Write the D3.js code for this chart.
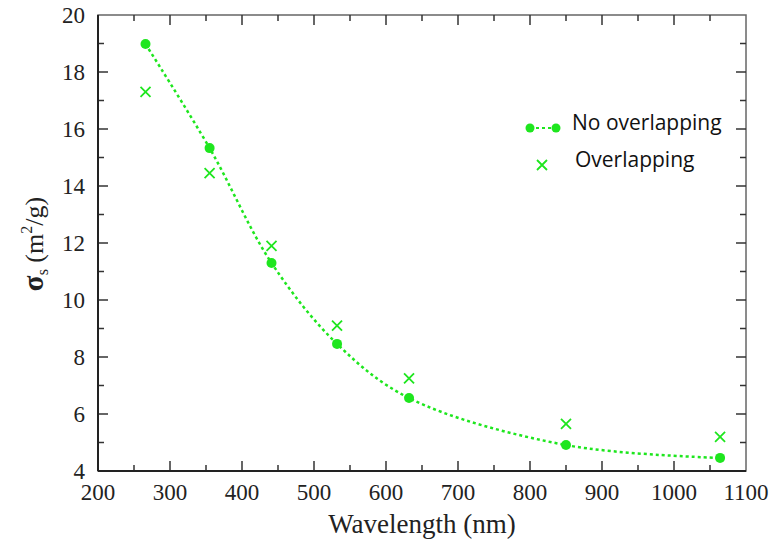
<!DOCTYPE html>
<html>
<head>
<meta charset="utf-8">
<script src="https://cdn.jsdelivr.net/npm/d3@7"></script>
<style>
  body { margin: 0; background: #fff; }
  svg { display: block; }
</style>
</head>
<body>
<svg id="chart" width="771" height="542"></svg>
<script>
// wavelengths (nm)
const wavelengths = [266, 355, 441, 532, 632, 850, 1064];
// sigma_s values (m^2/g)
const noOverlap = [18.98, 15.33, 11.3, 8.46, 6.56, 4.91, 4.46];
const overlap = [17.3, 14.45, 11.9, 9.1, 7.25, 5.65, 5.2];
const xTicks = [200, 300, 400, 500, 600, 700, 800, 900, 1000, 1100];
const yTicks = [4, 6, 8, 10, 12, 14, 16, 18, 20];
const legendLabels = ["No overlapping", "Overlapping"];

const svg = d3.select("#chart");
const green = "#1ee61e";

const plotL = 98, plotR = 746, plotT = 15, plotB = 471;

const xScale = d3.scaleLinear().domain([200, 1100]).range([plotL, plotR]);
const yScale = d3.scaleLinear().domain([4, 20]).range([plotB, plotT]);

// frame
svg.append("rect")
   .attr("x", plotL).attr("y", plotT)
   .attr("width", plotR - plotL).attr("height", plotB - plotT)
   .attr("fill", "none").attr("stroke", "#666").attr("stroke-width", 1.5);

// ticks, inward, all four sides
const xMinor = d3.range(250, 1100, 100);
const yMinor = d3.range(5, 20, 2);
const tickG = svg.append("g").attr("stroke", "#333").attr("stroke-width", 1.5);
xTicks.slice(1, -1).forEach(v => {
    tickG.append("line").attr("x1", xScale(v)).attr("x2", xScale(v)).attr("y1", plotB).attr("y2", plotB - 10);
    tickG.append("line").attr("x1", xScale(v)).attr("x2", xScale(v)).attr("y1", plotT).attr("y2", plotT + 10);
});
xMinor.forEach(v => {
    tickG.append("line").attr("x1", xScale(v)).attr("x2", xScale(v)).attr("y1", plotB).attr("y2", plotB - 6);
    tickG.append("line").attr("x1", xScale(v)).attr("x2", xScale(v)).attr("y1", plotT).attr("y2", plotT + 6);
});
yTicks.slice(1, -1).forEach(v => {
    tickG.append("line").attr("x1", plotL).attr("x2", plotL + 10).attr("y1", yScale(v)).attr("y2", yScale(v));
    tickG.append("line").attr("x1", plotR).attr("x2", plotR - 10).attr("y1", yScale(v)).attr("y2", yScale(v));
});
yMinor.forEach(v => {
    tickG.append("line").attr("x1", plotL).attr("x2", plotL + 6).attr("y1", yScale(v)).attr("y2", yScale(v));
    tickG.append("line").attr("x1", plotR).attr("x2", plotR - 6).attr("y1", yScale(v)).attr("y2", yScale(v));
});

// left + bottom axis lines darker
svg.append("line").attr("x1", plotL).attr("x2", plotL).attr("y1", plotT).attr("y2", plotB)
   .attr("stroke", "#222").attr("stroke-width", 2);
svg.append("line").attr("x1", plotL).attr("x2", plotR).attr("y1", plotB).attr("y2", plotB)
   .attr("stroke", "#222").attr("stroke-width", 2);

// tick labels
svg.append("g").selectAll("text")
   .data(xTicks).join("text")
   .attr("x", d => xScale(d)).attr("y", 500)
   .attr("text-anchor", "middle")
   .attr("font-family", "Liberation Serif, serif").attr("font-size", 23)
   .attr("fill", "#222")
   .text(d => d);

svg.append("g").selectAll("text")
   .data(yTicks).join("text")
   .attr("x", plotL - 13).attr("y", d => yScale(d) + 8)
   .attr("text-anchor", "end")
   .attr("font-family", "Liberation Serif, serif").attr("font-size", 23)
   .attr("fill", "#222")
   .text(d => d);

// axis titles
svg.append("text")
   .attr("x", 422).attr("y", 533)
   .attr("text-anchor", "middle")
   .attr("font-family", "Liberation Serif, serif").attr("font-size", 27)
   .attr("fill", "#222")
   .text("Wavelength (nm)");

const yTitle = svg.append("text")
   .attr("transform", "translate(43,244) rotate(-90)")
   .attr("text-anchor", "middle")
   .attr("font-family", "Liberation Serif, serif").attr("font-size", 26)
   .attr("fill", "#222");
yTitle.append("tspan").attr("font-weight", "bold").attr("font-size", 29).text("σ");
yTitle.append("tspan").attr("font-size", 16).attr("dy", 5).text("s");
yTitle.append("tspan").attr("dy", -5).text(" (m");
yTitle.append("tspan").attr("font-size", 16).attr("dy", -11).text("2");
yTitle.append("tspan").attr("dy", 11).text("/g)");

// dotted line through no-overlap points
const pts = wavelengths.map((w, i) => ({ w: w, a: noOverlap[i], b: overlap[i] }));
const line = d3.line()
    .x(d => xScale(d.w))
    .y(d => yScale(d.a))
    .curve(d3.curveCatmullRom);

svg.append("path")
   .datum(pts)
   .attr("fill", "none")
   .attr("stroke", green)
   .attr("stroke-width", 2.5)
   .attr("stroke-dasharray", "3,3")
   .attr("d", line);

svg.append("g").selectAll("circle")
   .data(pts).join("circle")
   .attr("cx", d => xScale(d.w)).attr("cy", d => yScale(d.a))
   .attr("r", 5).attr("fill", green);

// crosses for overlap
const cross = 5;
const crossG = svg.append("g").attr("stroke", green).attr("stroke-width", 1.8);
pts.forEach(d => {
    const cx = xScale(d.w), cy = yScale(d.b);
    crossG.append("path")
          .attr("d", `M${cx - cross},${cy - cross}L${cx + cross},${cy + cross}M${cx - cross},${cy + cross}L${cx + cross},${cy - cross}`);
});

// legend
const lg = svg.append("g");
lg.append("line").attr("x1", 530).attr("x2", 556).attr("y1", 128).attr("y2", 128)
  .attr("stroke", green).attr("stroke-width", 2).attr("stroke-dasharray", "3,3");
lg.append("circle").attr("cx", 530).attr("cy", 128).attr("r", 4.5).attr("fill", green);
lg.append("circle").attr("cx", 556).attr("cy", 128).attr("r", 4.5).attr("fill", green);
lg.append("path").attr("d", "M537,160L547,170M537,170L547,160")
  .attr("stroke", green).attr("stroke-width", 1.8);

lg.selectAll("text")
  .data(legendLabels).join("text")
  .attr("x", (d, i) => i === 0 ? 572 : 575)
  .attr("y", (d, i) => i === 0 ? 130 : 167)
  .attr("font-family", "Open Sans, Noto Sans, sans-serif").attr("font-size", 21)
  .attr("fill", "#111")
  .text(d => d);
</script>
</body>
</html>
